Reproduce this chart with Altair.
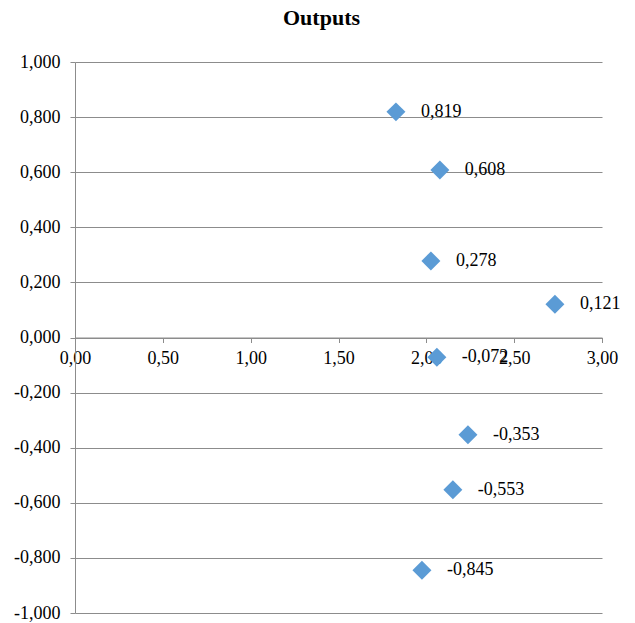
import altair as alt
import pandas as pd

x_vals = [1.827, 2.077, 2.026, 2.732, 2.060, 2.237, 2.151, 1.975]
y_vals = [0.819, 0.608, 0.278, 0.121, -0.072, -0.353, -0.553, -0.845]
x_ticks = [0, 0.5, 1.0, 1.5, 2.0, 2.5, 3.0]
y_ticks = [-1.0, -0.8, -0.6, -0.4, -0.2, 0.0, 0.2, 0.4, 0.6, 0.8, 1.0]

df = pd.DataFrame({"x": x_vals, "y": y_vals})

W, H = 527, 551
FONT = "Liberation Serif"
GRAY = "#8c8c8c"

xs = alt.Scale(domain=[0, 3], nice=False, zero=False)
ys = alt.Scale(domain=[-1, 1], nice=False)

x_enc = alt.X("x:Q", scale=xs, axis=alt.Axis(
    values=x_ticks, orient="bottom", offset=-H / 2, grid=False,
    labelExpr="replace(format(datum.value, '.2f'), '.', ',')",
    domainColor=GRAY, tickColor=GRAY, tickSize=5, labelPadding=7,
    labelFont=FONT, labelFontSize=18, labelColor="black", title=None,
    labelFlush=False, labelOverlap=False))
y_enc = alt.Y("y:Q", scale=ys, axis=alt.Axis(
    values=y_ticks, grid=True, gridColor=GRAY, gridWidth=1,
    labelExpr="replace(replace(format(datum.value, '.3f'), '.', ','), '−', '-')",
    domainColor=GRAY, tickColor=GRAY, tickSize=5, labelPadding=10,
    labelFont=FONT, labelFontSize=18, labelColor="black", title=None,
    labelFlush=False, labelOverlap=False))

base = alt.Chart(df).transform_calculate(
    lbl="replace(replace(format(datum.y, '.3f'), '.', ','), '−', '-')"
)

points = base.mark_point(shape="diamond", filled=True, size=360, opacity=1,
                         color="#5B9BD5").encode(x=x_enc, y=y_enc)
labels = base.mark_text(align="left", baseline="middle", dx=25, font=FONT,
                        fontSize=18, color="black").encode(
    x=alt.X("x:Q", scale=xs), y=alt.Y("y:Q", scale=ys), text="lbl:N")

chart = alt.layer(points, labels).properties(
    width=W, height=H,
    autosize=alt.AutoSizeParams(type="none"),
    padding={"left": 67, "top": 54, "right": 25, "bottom": 10},
    title=alt.TitleParams("Outputs", font=FONT, fontSize=22, fontWeight="bold",
                          anchor="middle", offset=23, dx=-17, color="black"),
).configure_view(stroke=None).configure_axis(gridColor=GRAY)

chart.save("out.html", embed_options={"renderer": "svg", "actions": False})
